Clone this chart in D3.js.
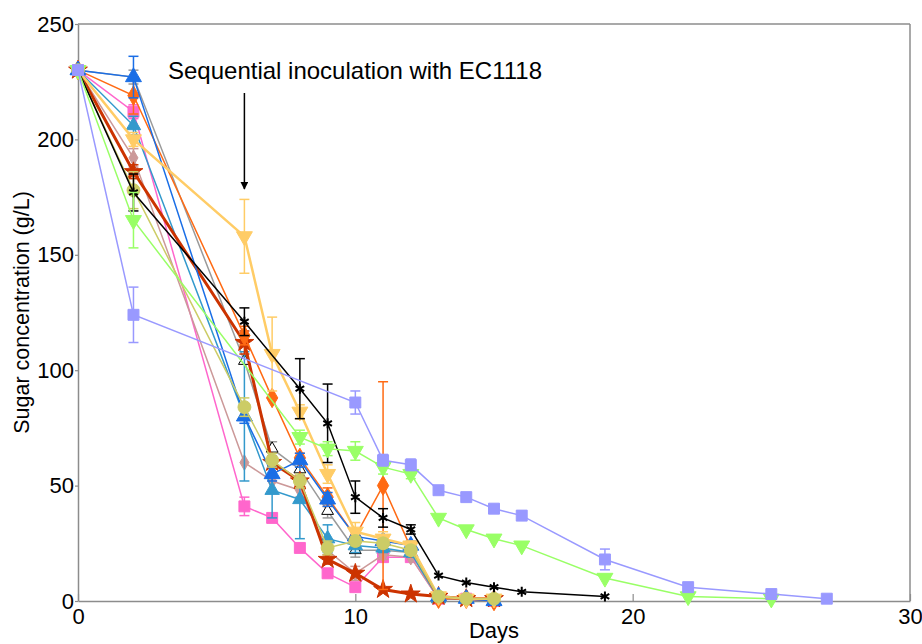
<!DOCTYPE html>
<html>
<head>
<meta charset="utf-8">
<script src="https://cdn.jsdelivr.net/npm/d3@7"></script>
<style>
  body { margin: 0; background: #fff; }
  text { font-family: "Liberation Sans", Arial, sans-serif; }
</style>
</head>
<body>
<svg id="chart" width="922" height="644"></svg>
<script>
// sampling days
var dayFast = [0, 2, 6, 7, 8, 9, 10, 11, 12, 13, 14, 15];
var dayBlack = [0, 2, 6, 8, 9, 10, 11, 12, 13, 14, 15, 16, 19];
var dayLavender = [0, 2, 10, 11, 12, 13, 14, 15, 16, 19, 22, 25, 27];
var dayGreen = [0, 2, 8, 9, 10, 11, 12, 13, 14, 15, 16, 19, 22, 25];

// sugar (g/L) and error half-widths
var grayVals = [230, 227, 104, 66, 57, 39, 22, 22, 21, 1, 1, 0];
var grayErr = [0, 3, 0, 3, 3, 3, 3, 2, 2, 0, 0, 0];
var blueVals = [230, 227, 80, 55, 61, 44, 28, 26, 24, 2, 1, 0];
var blueErr = [0, 9, 3, 3, 3, 3, 3, 2, 2, 0, 0, 0];
var steelVals = [230, 206, 80, 48, 44, 27, 24, 23, 21, 1, 1, 0];
var steelErr = [0, 4, 28, 12, 17, 6, 3, 2, 2, 0, 0, 0];
var pinkVals = [230, 212, 41, 36, 23, 12, 6, 19, 19, 1, 1, 0];
var pinkErr = [0, 3, 4, 0, 0, 0, 0, 0, 0, 0, 0, 0];
var redVals = [230, 186, 112, 60, 52, 18, 12, 5, 3, 2, 1, 1];
var redErr = [0, 3, 5, 2, 2, 2, 0, 0, 0, 0, 0, 0];
var orangeVals = [230, 219, 115, 88, 62, 45, 28, 50, 23, 1, 1, 0];
var orangeErr = [0, 8, 4, 0, 2, 4, 3, 45, 2, 0, 0, 0];
var rosyVals = [230, 192, 60, 52, 48, 22, 12, 20, 19, 1, 1, 0];
var rosyErr = [0, 4, 0, 0, 3, 4, 3, 2, 0, 0, 0, 0];
var oliveVals = [230, 178, 84, 61, 52, 23, 26, 25, 22, 2, 1, 1];
var oliveErr = [0, 8, 4, 3, 3, 3, 2, 2, 2, 0, 0, 0];
var ltOrangeVals = [230, 200, 158, 107, 82, 55, 30, 27, 24, 2, 1, 1];
var ltOrangeErr = [0, 3, 16, 16, 3, 4, 4, 3, 2, 0, 0, 0];
var blackVals = [230, 177, 121, 92, 77, 45, 36, 31, 11, 8, 6, 4, 2];
var blackErr = [0, 8, 6, 13, 17, 7, 4, 2, 0, 0, 0, 0, 0];
var lavenderVals = [230, 124, 86, 61, 59, 48, 45, 40, 37, 18, 6, 3, 1];
var lavenderErr = [0, 12, 5, 2.5, 2.5, 0, 0, 0, 2, 4.5, 0, 0, 0];
var greenVals = [230, 165, 71, 66, 65, 58, 55, 36, 31, 27, 24, 10, 2, 1];
var greenErr = [0, 12, 3, 3, 4, 3, 2, 0, 0, 0, 0, 0, 0, 0];

var xTicks = [0, 10, 20, 30];
var yTicks = [0, 50, 100, 150, 200, 250];

var downTri = {
  draw: function(ctx, size) {
    var s = Math.sqrt(size / (Math.sqrt(3) / 4));
    var h = s * Math.sqrt(3) / 2;
    ctx.moveTo(-s / 2, -h / 3);
    ctx.lineTo(s / 2, -h / 3);
    ctx.lineTo(0, 2 * h / 3);
    ctx.closePath();
  }
};

var series = [
  { days: dayFast, vals: grayVals, err: grayErr, color: "#9a9a9a", sym: d3.symbolTriangle, size: 60, open: "#000", w: 1.5 },
  { days: dayFast, vals: pinkVals, err: pinkErr, color: "#ff66cc", sym: d3.symbolSquare, size: 120, w: 1.5 },
  { days: dayFast, vals: rosyVals, err: rosyErr, color: "#cc9999", sym: d3.symbolDiamond, size: 70, w: 1.5 },
  { days: dayFast, vals: steelVals, err: steelErr, color: "#3399cc", sym: d3.symbolTriangle, size: 90, w: 1.5 },
  { days: dayFast, vals: redVals, err: redErr, color: "#cc3300", sym: d3.symbolStar, size: 110, w: 3 },
  { days: dayFast, vals: orangeVals, err: orangeErr, color: "#ff6a13", sym: d3.symbolDiamond, size: 110, w: 1.5 },
  { days: dayFast, vals: blueVals, err: blueErr, color: "#1a6ee6", sym: d3.symbolTriangle, size: 110, w: 1.5 },
  { days: dayFast, vals: ltOrangeVals, err: ltOrangeErr, color: "#ffcc66", sym: downTri, size: 110, w: 2.5 },
  { days: dayFast, vals: oliveVals, err: oliveErr, color: "#cccc66", sym: d3.symbolCircle, size: 130, w: 1.5 },
  { days: dayBlack, vals: blackVals, err: blackErr, color: "#000000", sym: d3.symbolAsterisk, size: 70, stroke: true, w: 1.5 },
  { days: dayGreen, vals: greenVals, err: greenErr, color: "#99ff66", sym: downTri, size: 110, w: 1.5 },
  { days: dayLavender, vals: lavenderVals, err: lavenderErr, color: "#9999ff", sym: d3.symbolSquare, size: 120, w: 1.5 }
];

var margin = { top: 24, right: 12, bottom: 43, left: 78 },
    W = 922, H = 644;

var svg = d3.select("#chart");

var x = d3.scaleLinear().domain([0, 30]).range([margin.left, W - margin.right]);
var y = d3.scaleLinear().domain([0, 250]).range([H - margin.bottom, margin.top]);

var axisColor = "#8c8c8c";

// frame top / right
svg.append("line").attr("x1", x(0)).attr("x2", x(30)).attr("y1", y(250)).attr("y2", y(250))
  .attr("stroke", axisColor).attr("stroke-width", 1.5);
svg.append("line").attr("x1", x(30)).attr("x2", x(30)).attr("y1", y(250)).attr("y2", y(0))
  .attr("stroke", axisColor).attr("stroke-width", 1.5);

var gx = svg.append("g").attr("transform", "translate(0," + y(0) + ")")
  .call(d3.axisBottom(x).tickValues(xTicks).tickSizeInner(-7).tickSizeOuter(0).tickPadding(7));
var gy = svg.append("g").attr("transform", "translate(" + x(0) + ",0)")
  .call(d3.axisLeft(y).tickValues(yTicks).tickSizeInner(3).tickSizeOuter(0).tickPadding(1));

[gx, gy].forEach(function(g) {
  g.select(".domain").attr("stroke", axisColor).attr("stroke-width", 1.5);
  g.selectAll(".tick line").attr("stroke", axisColor).attr("stroke-width", 1.2);
  g.selectAll(".tick text").attr("fill", "#000").style("font-size", "22px")
    .style("font-family", "'Liberation Sans', Arial, sans-serif");
});

// axis titles
svg.append("text").attr("x", (x(0) + x(30)) / 2).attr("y", 638)
  .attr("text-anchor", "middle").style("font-size", "22px").text("Days");
svg.append("text").attr("transform", "translate(29," + (y(0) + y(250)) / 2 + ") rotate(-90)")
  .attr("text-anchor", "middle").style("font-size", "21.5px").text("Sugar concentration (g/L)");

// series
var line = d3.line().x(function(d) { return x(d.day); }).y(function(d) { return y(d.v); });

series.forEach(function(s) {
  var pts = s.days.map(function(d, i) { return { day: d, v: s.vals[i], e: s.err[i] }; });
  var g = svg.append("g");
  g.append("path").datum(pts).attr("d", line).attr("fill", "none")
    .attr("stroke", s.color).attr("stroke-width", s.w);

  var eb = g.selectAll(".eb").data(pts.filter(function(p) { return p.e > 0; })).enter().append("g");
  eb.append("line").attr("x1", function(p) { return x(p.day); }).attr("x2", function(p) { return x(p.day); })
    .attr("y1", function(p) { return y(p.v - p.e); }).attr("y2", function(p) { return y(p.v + p.e); })
    .attr("stroke", s.color).attr("stroke-width", 1.5);
  [-1, 1].forEach(function(sg) {
    eb.append("line").attr("x1", function(p) { return x(p.day) - 5; }).attr("x2", function(p) { return x(p.day) + 5; })
      .attr("y1", function(p) { return y(p.v + sg * p.e); }).attr("y2", function(p) { return y(p.v + sg * p.e); })
      .attr("stroke", s.color).attr("stroke-width", 1.5);
  });

  g.selectAll(".m").data(pts).enter().append("path")
    .attr("transform", function(p) { return "translate(" + x(p.day) + "," + y(p.v) + ")"; })
    .attr("d", d3.symbol().type(s.sym).size(s.size))
    .attr("fill", s.stroke ? "none" : (s.open ? "#fff" : s.color))
    .attr("stroke", s.stroke ? s.color : (s.open ? s.open : s.color))
    .attr("stroke-width", s.stroke ? 2 : 1);
});

// annotation
svg.append("text").attr("x", 168).attr("y", 79).style("font-size", "24px")
  .text("Sequential inoculation with EC1118");
svg.append("defs").append("marker").attr("id", "arr").attr("viewBox", "0 0 10 10")
  .attr("refX", 9).attr("refY", 5).attr("markerWidth", 8).attr("markerHeight", 8)
  .attr("markerUnits", "userSpaceOnUse").attr("orient", "auto")
  .append("path").attr("d", "M0,0L10,5L0,10Z").attr("fill", "#000");
svg.append("line").attr("x1", x(6)).attr("x2", x(6)).attr("y1", 93).attr("y2", 189)
  .attr("stroke", "#000").attr("stroke-width", 1.5).attr("marker-end", "url(#arr)");
</script>
</body>
</html>
